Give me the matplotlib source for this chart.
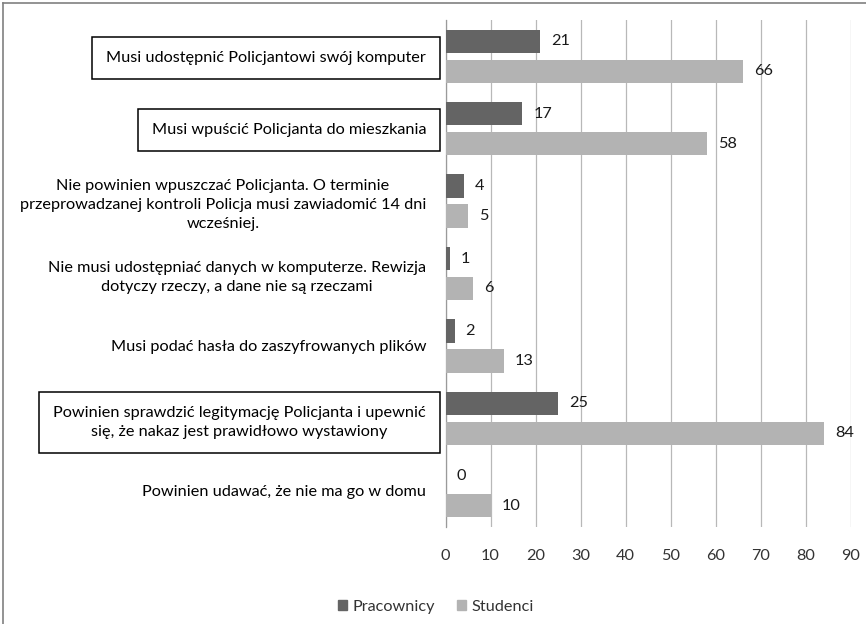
import numpy as np
import matplotlib
matplotlib.use("Agg")
import matplotlib.pyplot as plt
from matplotlib.lines import Line2D
from matplotlib.patches import Patch

plt.rcParams['font.family'] = ['Lato', 'DejaVu Sans']

categories = [
    "Musi udostępnić Policjantowi swój komputer",
    "Musi wpuścić Policjanta do mieszkania",
    "Nie powinien wpuszczać Policjanta. O terminie\nprzeprowadzanej kontroli Policja musi zawiadomić 14 dni\nwcześniej.",
    "Nie musi udostępniać danych w komputerze. Rewizja\ndotyczy rzeczy, a dane nie są rzeczami",
    "Musi podać hasła do zaszyfrowanych plików",
    "Powinien sprawdzić legitymację Policjanta i upewnić\nsię, że nakaz jest prawidłowo wystawiony",
    "Powinien udawać, że nie ma go w domu",
]
pracownicy = [21, 17, 4, 1, 2, 25, 0]
studenci = [66, 58, 5, 6, 13, 84, 10]
boxed = [0, 1, 5]
xticks = list(range(0, 100, 10))

fs = 11.7
dark = "#646464"
light = "#b3b3b3"

fig = plt.figure(figsize=(8.66, 6.24), dpi=100)
ax = fig.add_axes([445.5 / 866, 1 - 527 / 624, (851 - 445.5) / 866, (527 - 20) / 624])

y = np.arange(len(categories))
h = 0.32
off = 0.207
b1 = ax.barh(y - off, pracownicy, height=h, color=dark, label="Pracownicy", zorder=3)
b2 = ax.barh(y + off, studenci, height=h, color=light, label="Studenci", zorder=3)
ax.bar_label(b1, padding=8, fontsize=fs, color="#1a1a1a")
ax.bar_label(b2, padding=8, fontsize=fs, color="#1a1a1a")

ax.set_xlim(0, 90)
ax.set_ylim(len(categories) - 0.5, -0.5)
ax.set_xticks(xticks)
ax.set_yticks(y)
ax.set_yticklabels(categories, fontsize=fs, multialignment="center",
                   color="#000000", linespacing=1.45)
ax.tick_params(axis="y", length=0, pad=14)
ax.tick_params(axis="x", length=0, pad=16, labelsize=fs, labelcolor="#333333")
ax.grid(axis="x", color="#b8b8b8", linewidth=0.9, zorder=0)
for s in ["top", "right", "bottom"]:
    ax.spines[s].set_visible(False)
ax.spines["left"].set_color("#9a9a9a")
ax.spines["left"].set_linewidth(0.9)

fs_px = fs * 100 / 72
for i, lab in enumerate(ax.get_yticklabels()):
    if i in boxed:
        lab.set_bbox(dict(boxstyle="square,pad=%.3f" % (14 / fs_px),
                          facecolor="white", edgecolor="black", linewidth=1.1))

handles = [Patch(color=dark), Patch(color=light)]
fig.legend(handles, ["Pracownicy", "Studenci"], loc="center",
           bbox_to_anchor=(436 / 866, 1 - 607 / 624), ncol=2, frameon=False,
           fontsize=fs, handlelength=0.55, handleheight=0.55, handletextpad=0.3,
           columnspacing=1.4, labelcolor="#333333")

fig.add_artist(Line2D([3 / 866, 3 / 866], [0, 1 - 3 / 624], color="#808080", linewidth=1.2))
fig.add_artist(Line2D([3 / 866, 1], [1 - 3 / 624, 1 - 3 / 624], color="#808080", linewidth=1.2))

fig.savefig("out.png", dpi=100)
